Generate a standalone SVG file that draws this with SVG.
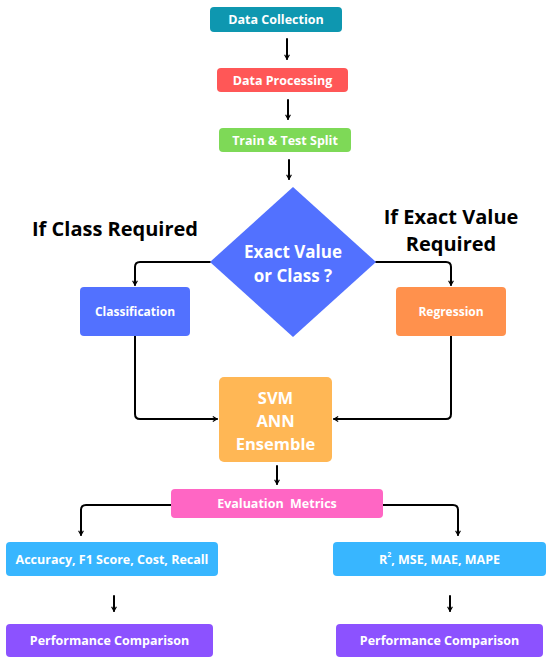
<svg xmlns="http://www.w3.org/2000/svg" width="550" height="664" viewBox="0 0 550 664">
<style>
.t{font-family:"Open Sans","Liberation Sans",sans-serif;font-weight:700;fill:#fff;text-anchor:middle;dominant-baseline:central}
.lbl{font-family:"Open Sans","Liberation Sans",sans-serif;font-weight:700;fill:#000;text-anchor:middle;dominant-baseline:central;font-size:20px}
.c{fill:none;stroke:#000;stroke-width:2;stroke-linejoin:round;stroke-linecap:round}
</style>
<defs>
<marker id="ah" viewBox="0 0 10 10" refX="8" refY="5" markerWidth="6" markerHeight="6" orient="auto" markerUnits="userSpaceOnUse">
<path d="M1,1 L8,5 L1,9" fill="none" stroke="#000" stroke-width="2"/>
</marker>
</defs>
<rect width="550" height="664" fill="#fff"/>
<g id="connectors">
<path class="c" d="M287,39 V59" marker-end="url(#ah)"/>
<path class="c" d="M288,100 V119" marker-end="url(#ah)"/>
<path class="c" d="M289,160 V179" marker-end="url(#ah)"/>
<path class="c" d="M210,262 H140 Q135,262 135,267 V285" marker-end="url(#ah)"/>
<path class="c" d="M376,262 H446 Q451,262 451,267 V285" marker-end="url(#ah)"/>
<path class="c" d="M135,336 V414 Q135,419 140,419 H217" marker-end="url(#ah)"/>
<path class="c" d="M451,336 V414 Q451,419 446,419 H334" marker-end="url(#ah)"/>
<path class="c" d="M277,466 V484" marker-end="url(#ah)"/>
<path class="c" d="M171,505 H86 Q81,505 81,510 V535" marker-end="url(#ah)"/>
<path class="c" d="M383,505 H453 Q458,505 458,510 V535" marker-end="url(#ah)"/>
<path class="c" d="M114,596 V611" marker-end="url(#ah)"/>
<path class="c" d="M450,596 V611" marker-end="url(#ah)"/>
</g>
<g id="n-collection"><rect x="210" y="7" width="132" height="25" rx="4" fill="#0E97B0"/><text class="t" x="276" y="19.5" font-size="12.5">Data Collection</text></g>
<g id="n-processing"><rect x="217" y="68" width="131" height="24" rx="4" fill="#FF5757"/><text class="t" x="282.5" y="80" font-size="12.5">Data Processing</text></g>
<g id="n-split"><rect x="219" y="128" width="132" height="24" rx="4" fill="#7ED957"/><text class="t" x="285" y="140" font-size="12.5">Train &amp; Test Split</text></g>
<g id="n-decision"><polygon points="293,187 376,262 293,337 210,262" fill="#5271FF"/><text class="t" x="293" y="251" font-size="17">Exact Value</text><text class="t" x="293" y="275" font-size="17">or Class ?</text></g>
<g id="l-class"><text class="lbl" x="115" y="228">If Class Required</text></g>
<g id="l-exact"><text class="lbl" x="451" y="216">If Exact Value</text><text class="lbl" x="451" y="243">Required</text></g>
<g id="n-classification"><rect x="80" y="287" width="110" height="49" rx="4" fill="#5271FF"/><text class="t" x="135" y="311.5" font-size="12">Classification</text></g>
<g id="n-regression"><rect x="396" y="287" width="110" height="49" rx="4" fill="#FF914D"/><text class="t" x="451" y="311.5" font-size="12">Regression</text></g>
<g id="n-models"><rect x="219" y="377" width="113" height="85" rx="5" fill="#FFB755"/><text class="t" x="275.5" y="397" font-size="16.5">SVM</text><text class="t" x="275.5" y="420" font-size="16.5">ANN</text><text class="t" x="275.5" y="443" font-size="16.5">Ensemble</text></g>
<g id="n-eval"><rect x="171" y="489" width="212" height="29" rx="4" fill="#FF66C4"/><text class="t" x="277" y="503.5" font-size="12.5" xml:space="preserve">Evaluation  Metrics</text></g>
<g id="n-cls-metrics"><rect x="6" y="542" width="212" height="34" rx="4" fill="#38B6FF"/><text class="t" x="112" y="559" font-size="12.5">Accuracy, F1 Score, Cost, Recall</text></g>
<g id="n-reg-metrics"><rect x="333" y="542" width="213" height="34" rx="4" fill="#38B6FF"/><text class="t" x="439.5" y="559" font-size="12.5">R<tspan font-size="7" dy="-5">2</tspan><tspan dy="5">, MSE, MAE, MAPE</tspan></text></g>
<g id="n-perf-left"><rect x="6" y="624" width="207" height="33" rx="4" fill="#8C52FF"/><text class="t" x="109.5" y="640.5" font-size="12.5">Performance Comparison</text></g>
<g id="n-perf-right"><rect x="336" y="624" width="207" height="33" rx="4" fill="#8C52FF"/><text class="t" x="439.5" y="640.5" font-size="12.5">Performance Comparison</text></g>
</svg>
